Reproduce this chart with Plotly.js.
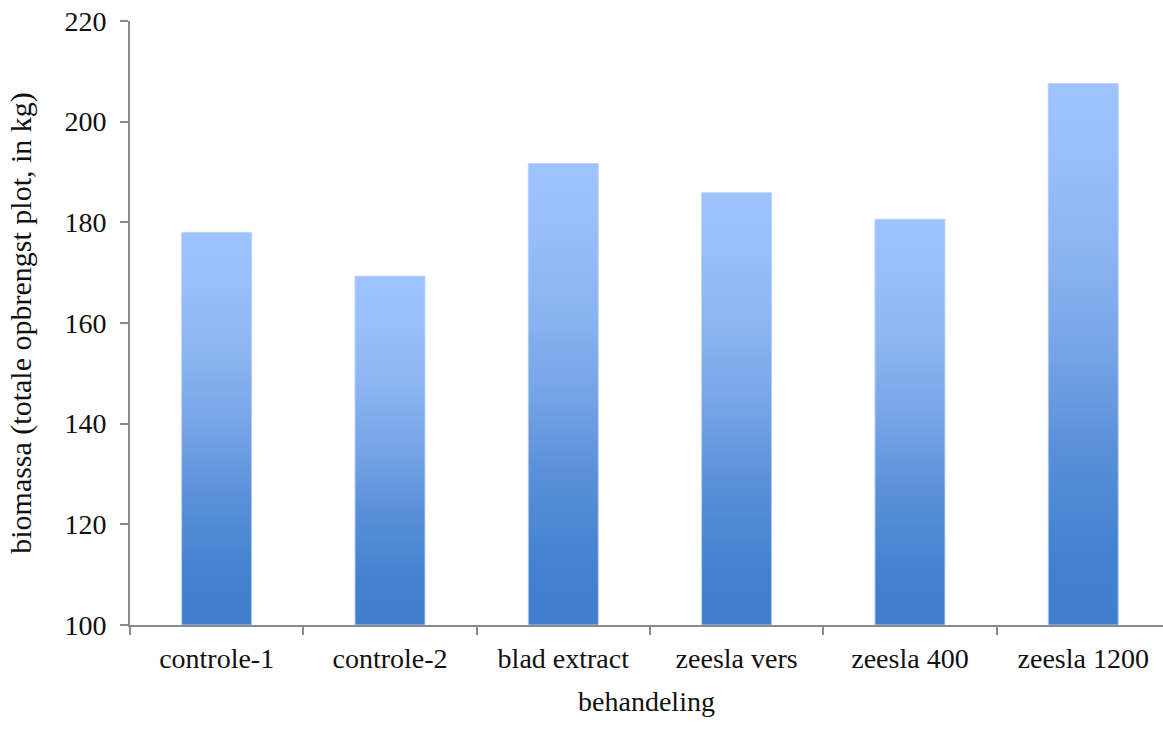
<!DOCTYPE html>
<html>
<head>
<meta charset="utf-8">
<script src="https://cdn.plot.ly/plotly-3.0.1.min.js"></script>
<style>html,body{margin:0;padding:0;background:#fff;}#chart{width:1163px;height:740px;}</style>
</head>
<body>
<div id="chart"></div>
<script>
const categories = ["controle-1", "controle-2", "blad extract", "zeesla vers", "zeesla 400", "zeesla 1200"];
const biomassa = [178.0, 169.3, 191.7, 185.9, 180.6, 207.6];
const yTickValues = [100, 120, 140, 160, 180, 200, 220];

const BAR_WIDTH = 0.404;
const AXIS_MIN = 100;
const FONT = "Liberation Serif, Times New Roman, serif";
const gradient = [
  [0, "#3F7FCD"], [0.12, "#4181CF"], [0.33, "#5A90D9"], [0.5, "#75A4E6"],
  [0.7, "#8DB5F3"], [0.88, "#99C0FD"], [1, "#9DC4FF"]
];

const traces = [{
  type: "bar", x: categories, y: biomassa, width: BAR_WIDTH,
  marker: {color: "#6E9FE2", line: {width: 0}}, hoverinfo: "x+y", showlegend: false
}];

categories.forEach((c, i) => {
  const h = BAR_WIDTH / 2;
  traces.push({
    type: "scatter", mode: "lines", xaxis: "x2", yaxis: "y",
    x: [i - h, i + h, i + h, i - h, i - h],
    y: [AXIS_MIN, AXIS_MIN, biomassa[i], biomassa[i], AXIS_MIN],
    fill: "toself",
    fillgradient: {type: "vertical", colorscale: gradient},
    line: {color: "rgba(195,213,245,0.9)", width: 1},
    hoverinfo: "skip", showlegend: false
  });
});

const xr = [-0.5, 5.46];
const layout = {
  width: 1163, height: 740,
  margin: {l: 130, r: 0, t: 21, b: 115},
  paper_bgcolor: "#ffffff", plot_bgcolor: "#ffffff",
  font: {family: FONT, size: 28, color: "#111"},
  showlegend: false,
  xaxis: {
    type: "category", range: xr, tickson: "boundaries",
    ticks: "outside", ticklen: 8, tickwidth: 2, tickcolor: "#8a8a8a",
    ticklabelstandoff: 7,
    showline: true, linecolor: "#8a8a8a", linewidth: 2,
    showgrid: false, zeroline: false,
    tickfont: {family: FONT, size: 28, color: "#111"},
    title: {text: "behandeling", font: {family: FONT, size: 28, color: "#111"}, standoff: 19}
  },
  xaxis2: {overlaying: "x", range: xr, visible: false, fixedrange: true},
  yaxis: {
    range: [100, 220], tickvals: yTickValues,
    ticks: "outside", ticklen: 8, tickwidth: 2, tickcolor: "#8a8a8a",
    ticklabelstandoff: 8,
    showline: true, linecolor: "#8a8a8a", linewidth: 2,
    showgrid: false, zeroline: false,
    tickfont: {family: FONT, size: 28, color: "#111"},
    title: {text: "biomassa (totale opbrengst plot, in kg)", font: {family: FONT, size: 30, color: "#111"}, standoff: 24}
  }
};

Plotly.newPlot("chart", traces, layout, {displayModeBar: false, staticPlot: true});
</script>
</body>
</html>
